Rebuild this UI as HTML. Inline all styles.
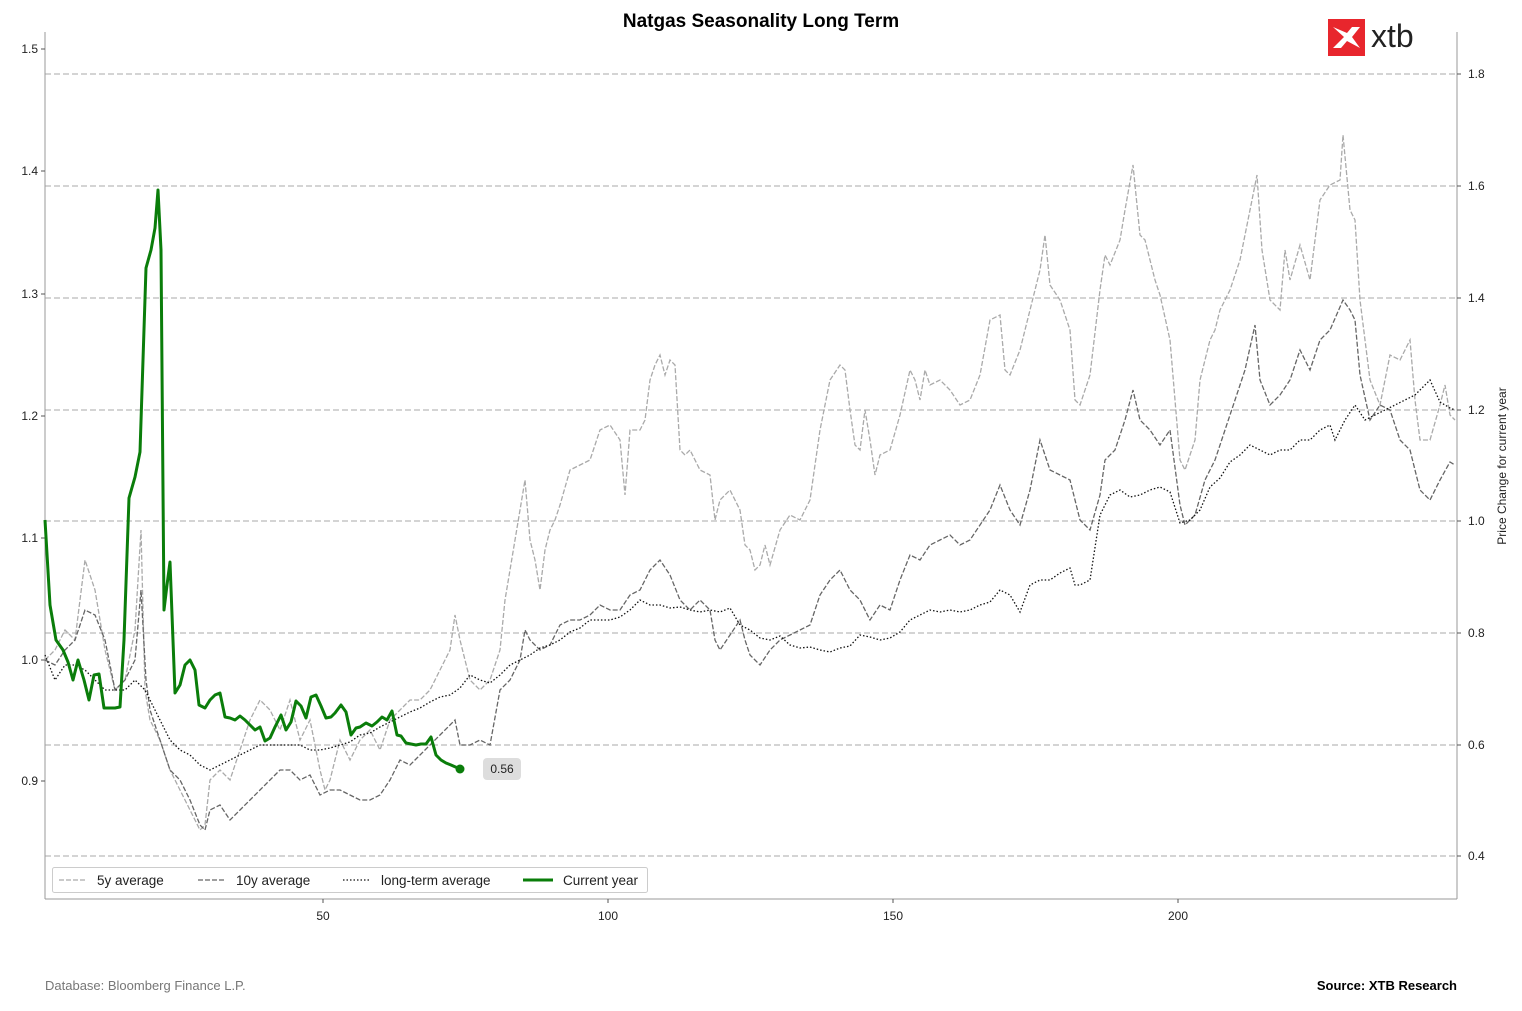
<!DOCTYPE html>
<html><head><meta charset="utf-8"><style>
body{margin:0;background:#fff;width:1522px;height:1006px;overflow:hidden;font-family:"Liberation Sans",Arial,sans-serif}
</style></head><body>
<svg width="1522" height="1006" xmlns="http://www.w3.org/2000/svg" font-family="Liberation Sans, Arial, sans-serif">
<text x="761" y="27" text-anchor="middle" font-size="19" font-weight="bold" fill="#000">Natgas Seasonality Long Term</text>
<rect x="1328" y="19" width="37" height="37" fill="#e8262d"/>
<path d="M1333 27 L1344 37 L1333 48 L1341 48 L1347 41 L1360 48 L1352 37 L1360 27 L1352 27 L1347 33 Z" fill="#fff"/>
<text x="1371" y="47" font-size="32" fill="#222">xtb</text>
<g stroke="#bbb" stroke-dasharray="6,3" stroke-width="1.2">
<line x1="45" x2="1457" y1="74" y2="74"/><line x1="45" x2="1457" y1="186" y2="186"/><line x1="45" x2="1457" y1="298" y2="298"/><line x1="45" x2="1457" y1="410" y2="410"/><line x1="45" x2="1457" y1="521" y2="521"/><line x1="45" x2="1457" y1="633" y2="633"/><line x1="45" x2="1457" y1="745" y2="745"/><line x1="45" x2="1457" y1="856" y2="856"/>
</g>
<g stroke="#999" stroke-width="1">
<line x1="45" y1="32" x2="45" y2="899"/><line x1="45" y1="899" x2="1457" y2="899"/><line x1="1457" y1="32" x2="1457" y2="899"/>
</g>
<g font-size="12" fill="#222">
<text x="38" y="53" text-anchor="end">1.5</text><text x="38" y="175" text-anchor="end">1.4</text><text x="38" y="298" text-anchor="end">1.3</text><text x="38" y="420" text-anchor="end">1.2</text><text x="38" y="542" text-anchor="end">1.1</text><text x="38" y="664" text-anchor="end">1.0</text><text x="38" y="785" text-anchor="end">0.9</text>
<text x="1468" y="78">1.8</text><text x="1468" y="190">1.6</text><text x="1468" y="302">1.4</text><text x="1468" y="414">1.2</text><text x="1468" y="525">1.0</text><text x="1468" y="637">0.8</text><text x="1468" y="749">0.6</text><text x="1468" y="860">0.4</text>
<text x="323" y="920" text-anchor="middle">50</text><text x="608" y="920" text-anchor="middle">100</text><text x="893" y="920" text-anchor="middle">150</text><text x="1178" y="920" text-anchor="middle">200</text>
<text transform="translate(1506,466) rotate(-90)" text-anchor="middle">Price Change for current year</text>
</g>
<g stroke="#555" stroke-width="1">
<line x1="41" x2="45" y1="49" y2="49"/><line x1="41" x2="45" y1="171" y2="171"/><line x1="41" x2="45" y1="294" y2="294"/><line x1="41" x2="45" y1="416" y2="416"/><line x1="41" x2="45" y1="538" y2="538"/><line x1="41" x2="45" y1="660" y2="660"/><line x1="41" x2="45" y1="781" y2="781"/>
<line x1="1457" x2="1461" y1="74" y2="74"/><line x1="1457" x2="1461" y1="186" y2="186"/><line x1="1457" x2="1461" y1="298" y2="298"/><line x1="1457" x2="1461" y1="410" y2="410"/><line x1="1457" x2="1461" y1="521" y2="521"/><line x1="1457" x2="1461" y1="633" y2="633"/><line x1="1457" x2="1461" y1="745" y2="745"/><line x1="1457" x2="1461" y1="856" y2="856"/>
<line x1="323" x2="323" y1="899" y2="903"/><line x1="608" x2="608" y1="899" y2="903"/><line x1="893" x2="893" y1="899" y2="903"/><line x1="1178" x2="1178" y1="899" y2="903"/>
</g>
<polyline fill="none" stroke="#aaa" stroke-width="1.3" stroke-dasharray="5,2" points="45,660 55,650 65,630 75,640 85,560 95,590 105,650 115,690 125,680 135,630 141,530 145,690 150,720 160,740 170,770 180,790 190,810 200,830 205,825 210,780 220,770 230,780 240,750 250,720 260,700 270,710 280,730 290,700 300,740 310,720 320,770 325,790 330,780 340,740 350,760 360,740 370,730 380,750 390,720 400,710 410,700 420,700 430,690 440,670 450,650 455,615 460,640 470,680 480,690 490,680 500,650 505,600 510,570 515,540 520,510 525,480 530,540 535,560 540,590 545,550 550,530 555,520 560,505 570,470 580,465 590,460 600,430 610,425 620,440 625,495 630,430 640,430 645,420 650,380 655,365 660,355 665,375 670,360 675,365 680,450 685,455 690,450 700,470 710,475 715,520 720,500 730,490 740,510 745,545 750,550 755,570 760,565 765,545 770,565 780,530 790,515 800,520 810,500 820,430 830,380 840,365 845,370 850,410 855,445 860,450 865,410 870,440 875,475 880,455 890,450 900,415 910,370 915,380 920,400 925,370 930,385 940,380 950,390 960,405 970,400 980,375 990,320 1000,315 1005,370 1010,375 1020,350 1030,310 1040,270 1045,235 1050,285 1060,300 1070,330 1075,400 1080,405 1090,375 1100,290 1105,255 1110,265 1120,240 1125,210 1133,165 1140,235 1145,240 1155,280 1160,295 1170,340 1180,460 1185,470 1195,440 1200,380 1210,340 1215,330 1220,310 1230,290 1240,260 1250,210 1257,175 1262,250 1270,300 1280,310 1285,250 1290,280 1300,245 1310,280 1320,200 1330,185 1340,180 1343,135 1350,210 1355,220 1360,300 1370,380 1380,405 1390,355 1400,360 1410,340 1415,400 1420,440 1430,440 1440,405 1445,385 1450,415 1455,420"/>
<polyline fill="none" stroke="#666" stroke-width="1.3" stroke-dasharray="5,2" points="45,660 55,665 65,650 75,640 85,610 95,615 105,640 115,690 125,680 135,660 141,590 146,680 150,710 160,740 170,770 180,780 190,800 200,825 205,830 210,810 220,805 230,820 240,810 250,800 260,790 270,780 280,770 290,770 300,780 310,775 320,795 330,790 340,790 350,795 360,800 370,800 380,795 390,780 400,760 410,765 420,755 430,745 440,735 450,725 455,720 460,745 470,745 480,740 490,745 500,690 510,680 520,660 525,630 530,640 540,650 550,645 560,625 570,620 580,620 590,615 600,605 610,610 620,610 630,595 640,590 650,570 660,560 670,575 680,600 690,610 700,600 710,610 715,640 720,650 730,635 740,620 745,640 750,655 760,665 770,650 780,640 790,635 800,630 810,625 820,595 830,580 840,570 850,590 860,600 870,620 880,605 890,610 900,580 910,555 920,560 930,545 940,540 950,535 960,545 970,540 980,525 990,510 1000,485 1010,510 1020,525 1030,490 1040,440 1050,470 1060,475 1070,480 1080,520 1090,530 1100,495 1105,460 1115,450 1125,420 1133,390 1140,420 1150,430 1160,445 1170,430 1180,505 1185,525 1195,515 1205,480 1215,460 1225,430 1235,400 1245,370 1255,325 1260,380 1270,405 1280,395 1290,380 1300,350 1310,370 1320,340 1330,330 1343,300 1350,310 1355,320 1360,375 1370,420 1380,405 1390,410 1400,440 1410,450 1420,490 1430,500 1440,480 1450,462 1455,465"/>
<polyline fill="none" stroke="#111" stroke-width="1.3" stroke-dasharray="1.5,2" points="45,655 55,680 65,665 75,665 85,670 95,680 105,690 115,690 125,690 135,680 145,690 150,700 160,720 170,740 180,750 190,755 200,765 210,770 220,765 230,760 240,755 250,750 260,745 270,745 280,745 290,745 300,745 310,750 320,750 330,748 340,745 350,742 360,735 370,733 380,727 390,722 400,717 410,712 420,708 430,702 440,697 450,695 460,688 470,675 480,680 490,683 500,675 510,665 520,660 530,655 540,648 550,645 560,640 570,632 580,628 590,620 600,620 610,620 620,617 630,610 640,600 650,605 660,605 670,608 680,607 690,610 700,612 710,610 720,612 730,608 740,625 750,630 760,638 770,640 780,636 790,645 800,648 810,647 820,650 830,652 840,648 850,646 860,635 870,637 880,640 890,638 900,632 910,620 920,615 930,610 940,612 950,610 960,612 970,610 980,605 990,602 1000,590 1010,595 1020,612 1030,585 1040,580 1050,580 1060,573 1070,568 1075,585 1080,585 1090,580 1100,515 1110,495 1120,490 1130,497 1140,495 1150,490 1160,487 1170,492 1180,523 1190,520 1200,510 1210,487 1220,478 1230,462 1240,455 1250,445 1260,450 1270,455 1280,450 1290,450 1300,440 1310,440 1320,430 1330,425 1335,440 1345,420 1355,405 1365,420 1375,415 1385,410 1395,405 1405,400 1415,395 1425,385 1430,380 1440,402 1450,408 1455,410"/>
<polyline fill="none" stroke="#0a7d0a" stroke-width="3" stroke-linejoin="round" points="45,520 50,605 56,640 63,650 68,662 73,680 78,660 84,680 89,700 94,675 99,674 104,708 110,708 115,708 120,707 124,640 129,498 135,477 140,452 146,268 151,250 155,228 158,190 161,250 164,610 167,585 170,562 175,693 180,685 185,665 190,660 195,670 199,705 205,708 210,700 215,695 220,693 225,717 230,718 235,720 240,716 245,720 250,725 255,730 260,727 265,741 270,738 275,727 281,715 286,730 291,722 296,701 301,706 306,718 311,697 316,695 321,706 326,718 331,717 335,713 341,705 346,712 351,735 356,728 360,727 366,723 372,726 377,722 382,717 387,720 392,711 397,735 401,736 406,743 411,744 416,745 421,744 426,744 431,737 436,755 441,760 446,763 451,765 460,769"/>
<circle cx="460" cy="769" r="4.5" fill="#0a7d0a"/>
<rect x="483" y="758" width="38" height="22" rx="4" fill="#ddd"/>
<text x="502" y="773" text-anchor="middle" font-size="12" fill="#222">0.56</text>
<rect x="52.5" y="867.5" width="595" height="25" rx="2" fill="#fff" stroke="#ccc"/>
<g font-size="13.5" fill="#222">
<line x1="59" x2="87" y1="880" y2="880" stroke="#aaa" stroke-width="1.3" stroke-dasharray="5,2"/><text x="97" y="885">5y average</text>
<line x1="198" x2="226" y1="880" y2="880" stroke="#666" stroke-width="1.3" stroke-dasharray="5,2"/><text x="236" y="885">10y average</text>
<line x1="343" x2="371" y1="880" y2="880" stroke="#111" stroke-width="1.3" stroke-dasharray="1.5,2"/><text x="381" y="885">long-term average</text>
<line x1="523" x2="553" y1="880" y2="880" stroke="#0a7d0a" stroke-width="3"/><text x="563" y="885">Current year</text>
</g>
<text x="45" y="990" font-size="13" fill="#777">Database: Bloomberg Finance L.P.</text>
<text x="1457" y="990" font-size="13" font-weight="bold" fill="#000" text-anchor="end">Source: XTB Research</text>
</svg>
</body></html>
